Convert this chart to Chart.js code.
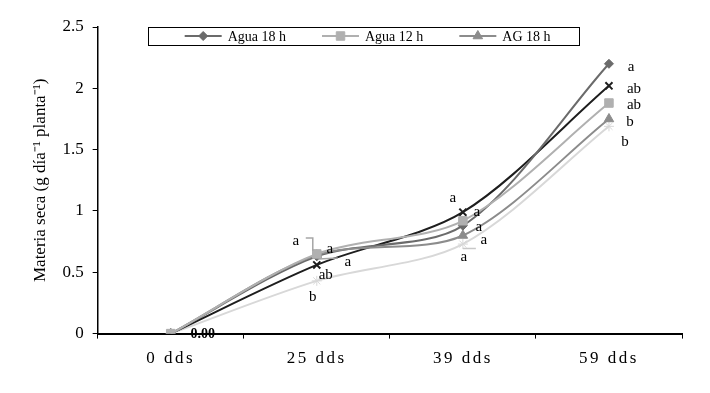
<!DOCTYPE html>
<html>
<head>
<meta charset="utf-8">
<script src="https://cdn.jsdelivr.net/npm/chart.js@4/dist/chart.umd.min.js"></script>
<style>
 html, body { margin: 0; padding: 0; background: #fff; }
 #wrap { width: 710px; height: 393px; }
</style>
</head>
<body>
<div id="wrap"><canvas id="myChart" width="710" height="393"></canvas></div>
<script>
// data
const categories = ['0 dds', '25 dds', '39 dds', '59 dds'];
const agua18 = [0, 0.63, 0.88, 2.20];
const agua12 = [0, 0.65, 0.92, 1.88];
const ag18 = [0, 0.64, 0.80, 1.75];
const serieX = [0, 0.56, 0.99, 2.02];
const serieClara = [0, 0.43, 0.73, 1.69];
const yTicks = [0, 0.5, 1, 1.5, 2, 2.5];

// significance letters per series (same order as the points)
const letrasAgua18 = ['', 'a', 'a', 'a'];
const letrasAgua12 = ['', 'a', 'a', 'ab'];
const letrasAg18 = ['', 'a', 'a', 'b'];
const letrasX = ['', 'ab', 'a', 'ab'];
const letrasClara = ['0.00', 'b', 'a', 'b'];

// where each letter sits relative to its point (px)
const offsets = [
  [null, [13, -7], [16, 1], [22, 3]],
  [null, [-21, -13], [14, -9], [25, 2]],
  [null, [31, 7], [21, 5], [21, 3]],
  [null, [9, 10], [-10, -14], [25, 3]],
  [[32, 1], [-4, 16], [1, 13], [16, 16]]
];
const letras = [letrasAgua18, letrasAgua12, letrasAg18, letrasX, letrasClara];

const serif = "'Liberation Serif', 'Times New Roman', serif";

function addLetterSpacing(chart) {
  const sc = chart.scales.x;
  if (!sc || sc._spaced) return;
  const orig = sc.draw;
  sc.draw = function (area) {
    const ctx = this.ctx;
    ctx.save();
    ctx.letterSpacing = '2.5px';
    orig.call(this, area);
    ctx.restore();
  };
  sc._spaced = true;
}

const spacing = {
  id: 'spacing',
  beforeLayout(chart) { addLetterSpacing(chart); }
};

function marker(ctx, style, radius, x, y, color) {
  ctx.save();
  ctx.fillStyle = color;
  ctx.strokeStyle = color;
  ctx.lineWidth = 1;
  Chart.helpers.drawPoint(ctx, {pointStyle: style, radius: radius, rotation: 0, borderWidth: 1}, x, y);
  ctx.restore();
}

const letters = {
  id: 'letters',
  afterDatasetsDraw(chart) {
    const ctx = chart.ctx;
    ctx.save();
    // leader lines drawn by the spreadsheet
    ctx.strokeStyle = '#a6a6a6';
    ctx.lineWidth = 1.5;
    const p12 = chart.getDatasetMeta(1).data[1];
    ctx.beginPath();
    ctx.moveTo(p12.x - 11, p12.y - 16);
    ctx.lineTo(p12.x - 4, p12.y - 16);
    ctx.lineTo(p12.x - 4, p12.y - 3);
    ctx.stroke();
    const pAg = chart.getDatasetMeta(2).data[1];
    ctx.beginPath();
    ctx.moveTo(pAg.x + 2, pAg.y + 4);
    ctx.lineTo(pAg.x + 21, pAg.y + 3);
    ctx.stroke();
    const pAg39 = chart.getDatasetMeta(2).data[2];
    ctx.strokeStyle = '#c8c8c8';
    ctx.beginPath();
    ctx.moveTo(pAg39.x, pAg39.y + 13);
    ctx.lineTo(pAg39.x + 13, pAg39.y + 13);
    ctx.stroke();

    ctx.fillStyle = '#000';
    ctx.textAlign = 'center';
    ctx.textBaseline = 'middle';
    letras.forEach((lista, i) => {
      const meta = chart.getDatasetMeta(i);
      lista.forEach((txt, j) => {
        if (!txt) return;
        const el = meta.data[j];
        const off = offsets[i][j];
        ctx.font = txt === '0.00' ? 'bold 14px ' + serif : '15px ' + serif;
        ctx.fillText(txt, el.x + off[0], el.y + off[1]);
      });
    });
    ctx.restore();
  }
};

const legendBox = {
  id: 'legendBox',
  afterDraw(chart) {
    const ctx = chart.ctx;
    const area = chart.chartArea;
    const items = chart.data.datasets.slice(0, 3);
    const lineLen = 37, gap = 6, itemGap = 36;
    ctx.save();
    ctx.font = '14px ' + serif;
    const widths = items.map(d => lineLen + gap + ctx.measureText(d.label).width);
    const total = widths.reduce((a, b) => a + b, 0) + itemGap * (items.length - 1);
    const cx = area.left + area.width * 0.462;
    let x = cx - total / 2;
    const top = area.top;
    const h = 18;
    const y = top + h / 2;
    ctx.fillStyle = '#fff';
    ctx.fillRect(x - 37, top, total + 37 + 28, h);
    ctx.strokeStyle = '#000';
    ctx.lineWidth = 1;
    ctx.strokeRect(Math.round(x - 37) + 0.5, top + 0.5, Math.round(total + 37 + 28), h);
    items.forEach((d, i) => {
      ctx.strokeStyle = d.borderColor;
      ctx.lineWidth = 2;
      ctx.beginPath();
      ctx.moveTo(x, y);
      ctx.lineTo(x + lineLen, y);
      ctx.stroke();
      marker(ctx, d.pointStyle, d.pointRadius, x + lineLen / 2, y, d.borderColor);
      ctx.fillStyle = '#000';
      ctx.textAlign = 'left';
      ctx.textBaseline = 'middle';
      ctx.fillText(d.label, x + lineLen + gap, y + 1);
      x += widths[i] + itemGap;
    });
    ctx.restore();
  }
};

function serie(label, data, color, style, radius, order) {
  return {
    label: label,
    data: data,
    borderColor: color,
    backgroundColor: color,
    pointBackgroundColor: color,
    pointBorderColor: color,
    borderWidth: 2,
    pointStyle: style,
    pointRadius: radius,
    pointBorderWidth: style === 'crossRot' ? 2 : 1,
    tension: 0.3,
    order: order,
    fill: false
  };
}

function init () {
  const ctx = document.getElementById('myChart').getContext('2d');
  new Chart(ctx, {
    type: 'line',
    data: {
      labels: categories,
      datasets: [
        serie('Agua 18 h', agua18, '#6b6b6b', 'rectRot', 4.5, 2),
        serie('Agua 12 h', agua12, '#b0b0b0', 'rect', 6, 0),
        serie('AG 18 h', ag18, '#8c8c8c', 'triangle', 5.5, 1),
        serie('', serieX, '#1e1e1e', 'crossRot', 5, 3),
        serie('', serieClara, '#d8d8d8', 'star', 5, 4)
      ]
    },
    options: {
      responsive: false,
      animation: false,
      layout: { padding: { left: 30, right: 28, top: 27, bottom: 14 } },
      plugins: {
        legend: { display: false },
        tooltip: { enabled: false }
      },
      scales: {
        x: {
          offset: true,
          grid: { display: true, drawOnChartArea: false, drawTicks: true, tickLength: 5, color: '#000', offset: true },
          border: { display: true, color: '#000', width: 2 },
          ticks: { color: '#000', font: { family: serif, size: 17 }, padding: 10, maxRotation: 0 }
        },
        y: {
          min: 0,
          max: 2.5,
          afterBuildTicks: (axis) => { axis.ticks = yTicks.map(v => ({ value: v })); },
          grid: { display: true, drawOnChartArea: false, drawTicks: true, tickLength: 5, color: '#000' },
          border: { display: true, color: '#000', width: 1.5 },
          ticks: { color: '#000', font: { family: serif, size: 17 }, padding: 9, callback: (v) => String(v) },
          title: {
            display: true,
            text: 'Materia seca (g día⁻¹ planta⁻¹)',
            color: '#000',
            font: { family: serif, size: 17 },
            padding: { top: 0, bottom: 3 }
          }
        }
      }
    },
    plugins: [spacing, letters, legendBox]
  });
}

init();
</script>
</body>
</html>
